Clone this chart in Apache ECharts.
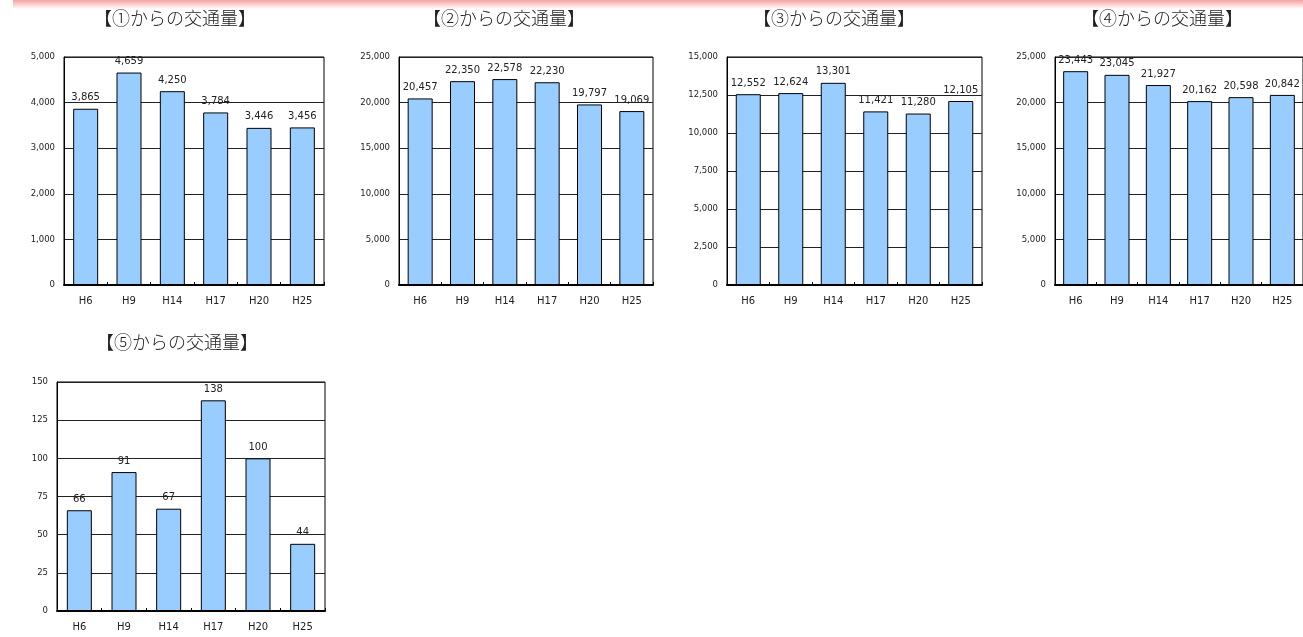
<!DOCTYPE html>
<html>
<head>
<meta charset="utf-8">
<script src="https://cdn.jsdelivr.net/npm/echarts@6/dist/echarts.min.js"></script>
<style>
html,body{margin:0;padding:0;background:#fff;}
#main{width:1303px;height:637px;}
</style>
</head>
<body>
<div id="main"></div>
<script>
// ---- data ----
const categories = ['H6', 'H9', 'H14', 'H17', 'H20', 'H25'];
const titles = ['【①からの交通量】', '【②からの交通量】', '【③からの交通量】', '【④からの交通量】', '【⑤からの交通量】'];
const values1 = [3865, 4659, 4250, 3784, 3446, 3456];
const values2 = [20457, 22350, 22578, 22230, 19797, 19069];
const values3 = [12552, 12624, 13301, 11421, 11280, 12105];
const values4 = [23443, 23045, 21927, 20162, 20598, 20842];
const values5 = [66, 91, 67, 138, 100, 44];
const yMax = [5000, 25000, 15000, 25000, 150];
const yInterval = [1000, 5000, 2500, 5000, 25];

const allValues = [values1, values2, values3, values4, values5];

// ---- layout ----
const grids = [
  {left: 64, top: 57, width: 260, height: 228},
  {left: 399, top: 57, width: 254, height: 228},
  {left: 727, top: 57, width: 255, height: 228},
  {left: 1055, top: 57, width: 258, height: 228},
  {left: 57, top: 382, width: 268, height: 229}
];
const titlePos = [[175, 18], [504, 18], [834, 18], [1162, 18], [177, 342]];

const fmt = v => Number(v).toLocaleString('en-US');
const FONT = 'DejaVu Sans';

const option = {
  backgroundColor: '#ffffff',
  animation: false,
  grid: grids.map(g => Object.assign({show: true, borderColor: '#000', borderWidth: 1, backgroundColor: 'transparent', containLabel: false}, g)),
  xAxis: grids.map((g, i) => ({
    type: 'category',
    gridIndex: i,
    data: categories,
    axisLine: {lineStyle: {color: '#000', width: 2}},
    axisTick: {show: true, inside: true, length: 3, lineStyle: {color: '#000'}},
    axisLabel: {fontFamily: FONT, fontSize: 10, color: '#222', margin: 11}
  })),
  yAxis: grids.map((g, i) => ({
    type: 'value',
    gridIndex: i,
    min: 0,
    max: yMax[i],
    interval: yInterval[i],
    axisLine: {show: true, lineStyle: {color: '#000', width: 1}},
    axisTick: {show: false},
    splitLine: {show: true, lineStyle: {color: '#222', width: 1}},
    axisLabel: {fontFamily: FONT, fontSize: 8.5, color: '#222', margin: 9, formatter: v => fmt(v)}
  })),
  series: allValues.map((vals, i) => ({
    type: 'bar',
    xAxisIndex: i,
    yAxisIndex: i,
    data: vals,
    barWidth: 25,
    itemStyle: {color: '#99ccff', borderColor: '#000', borderWidth: 1},
    label: {show: true, position: 'top', distance: 6, fontFamily: FONT, fontSize: 10, color: '#222', formatter: p => fmt(p.value)}
  })),
  graphic: [
    {
      type: 'rect', z: -1,
      shape: {x: 13, y: 0, width: 1290, height: 9},
      style: {fill: new echarts.graphic.LinearGradient(0, 0, 0, 1, [
        {offset: 0, color: '#f6a0a0'}, {offset: 1, color: '#ffffff'}
      ])}
    }
  ].concat(titles.map((t, i) => ({
    type: 'text',
    x: titlePos[i][0],
    y: titlePos[i][1],
    style: {text: t, textAlign: 'center', textVerticalAlign: 'middle', fontSize: 18, fontFamily: 'Noto Sans CJK JP', fontWeight: 300, fill: '#222'}
  })))
};

const chart = echarts.init(document.getElementById('main'), null, {renderer: 'canvas'});
chart.setOption(option);
</script>
</body>
</html>
